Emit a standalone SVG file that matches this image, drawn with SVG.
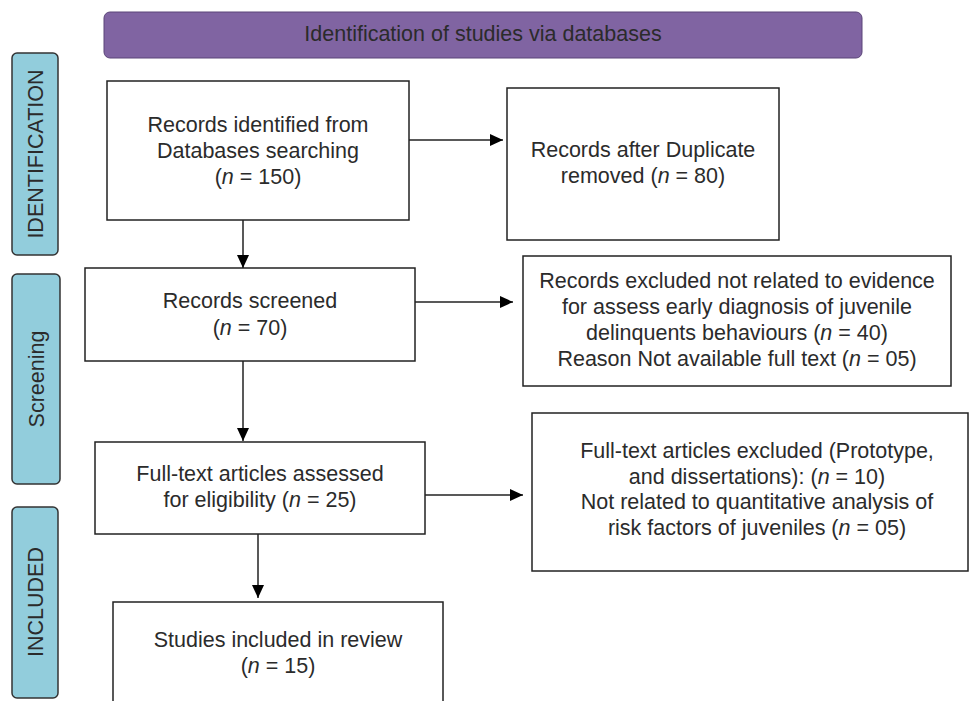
<svg xmlns="http://www.w3.org/2000/svg" width="969" height="701" viewBox="0 0 969 701">
<style>
text{font-family:"Liberation Sans",Arial,sans-serif;font-size:21.5px;fill:#2b2b2b;text-anchor:middle}
.box{fill:#fff;stroke:#222;stroke-width:1.5}
.side{fill:#92CDDC;stroke:#333;stroke-width:1.5}
.ban{fill:#8064A2;stroke:#5a4478;stroke-width:1}
.con{stroke:#222;stroke-width:1.5;fill:none;marker-end:url(#ah)}
.i{font-style:italic}
</style>
<defs>
<marker id="ah" markerWidth="13" markerHeight="12" refX="13" refY="6" orient="auto" markerUnits="userSpaceOnUse">
<path d="M0,0 L13,6 L0,12 Z" fill="#000"/>
</marker>
</defs>
<rect width="969" height="701" fill="#fff"/>
<g id="banner">
<rect class="ban" x="104" y="12" width="758" height="46" rx="6"/>
<text x="483" y="41">Identification of studies via databases</text>
</g>
<g id="side-identification">
<rect class="side" x="12" y="53" width="46" height="202" rx="5"/>
<text transform="translate(43,154) rotate(-90)">IDENTIFICATION</text>
</g>
<g id="side-screening">
<rect class="side" x="12" y="274" width="48" height="210" rx="5"/>
<text transform="translate(44,379) rotate(-90)">Screening</text>
</g>
<g id="side-included">
<rect class="side" x="12" y="507" width="46" height="191" rx="5"/>
<text transform="translate(43,602) rotate(-90)">INCLUDED</text>
</g>
<g id="n1">
<rect class="box" x="107" y="81" width="302" height="139"/>
<text x="258" y="132">Records identified from</text>
<text x="258" y="158">Databases searching</text>
<text x="258" y="184">(<tspan class="i">n</tspan> = 150)</text>
</g>
<g id="n2">
<rect class="box" x="507" y="88" width="272" height="152"/>
<text x="643" y="157">Records after Duplicate</text>
<text x="643" y="183">removed (<tspan class="i">n</tspan> = 80)</text>
</g>
<g id="n3">
<rect class="box" x="85" y="268" width="330" height="93"/>
<text x="250" y="308">Records screened</text>
<text x="250" y="335">(<tspan class="i">n</tspan> = 70)</text>
</g>
<g id="n4">
<rect class="box" x="523" y="256" width="428" height="130"/>
<text x="737" y="288">Records excluded not related to evidence</text>
<text x="737" y="314">for assess early diagnosis of juvenile</text>
<text x="737" y="340">delinquents behaviours (<tspan class="i">n</tspan> = 40)</text>
<text x="737" y="366">Reason Not available full text (<tspan class="i">n</tspan> = 05)</text>
</g>
<g id="n5">
<rect class="box" x="95" y="442" width="330" height="92"/>
<text x="260" y="481">Full-text articles assessed</text>
<text x="260" y="507">for eligibility (<tspan class="i">n</tspan> = 25)</text>
</g>
<g id="n6">
<rect class="box" x="532" y="413" width="436" height="158"/>
<text x="757" y="458">Full-text articles excluded (Prototype,</text>
<text x="757" y="484">and dissertations): (<tspan class="i">n</tspan> = 10)</text>
<text x="757" y="509">Not related to quantitative analysis of</text>
<text x="757" y="535">risk factors of juveniles (<tspan class="i">n</tspan> = 05)</text>
</g>
<g id="n7">
<rect class="box" x="113" y="602" width="330" height="110"/>
<text x="278" y="647">Studies included in review</text>
<text x="278" y="673">(<tspan class="i">n</tspan> = 15)</text>
</g>
<g id="connectors">
<line class="con" x1="409" y1="140" x2="503" y2="140"/>
<line class="con" x1="243" y1="220" x2="243" y2="268"/>
<line class="con" x1="415" y1="302" x2="513" y2="302"/>
<line class="con" x1="243" y1="361" x2="243" y2="441"/>
<line class="con" x1="425" y1="495" x2="523" y2="495"/>
<line class="con" x1="258" y1="534" x2="258" y2="598"/>
</g>
</svg>
